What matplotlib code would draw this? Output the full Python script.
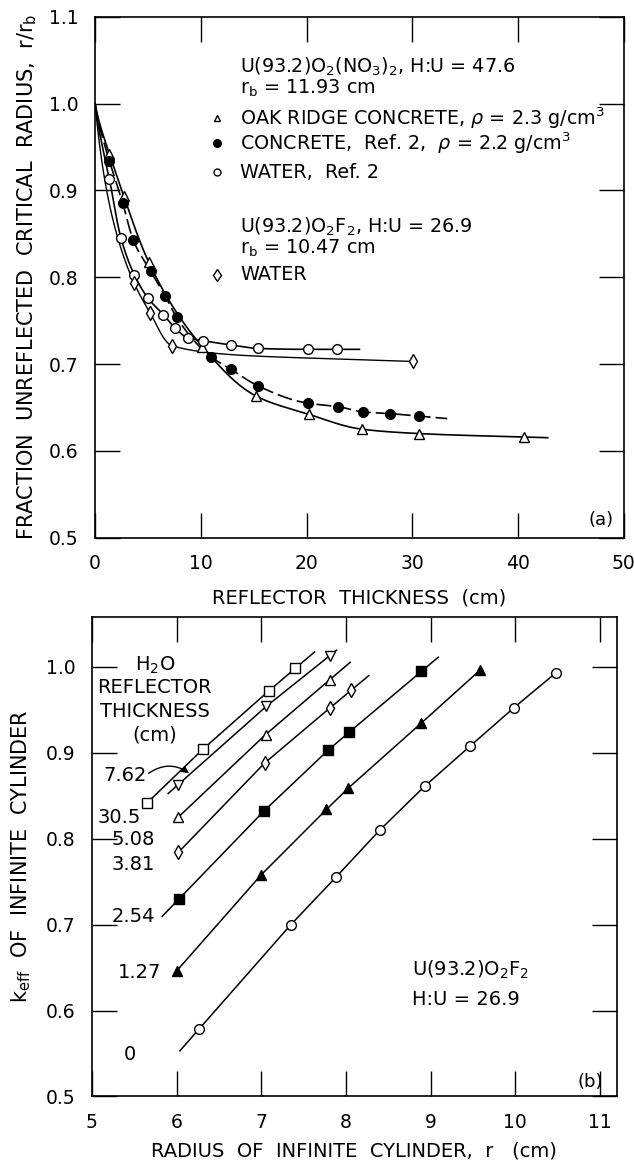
import numpy as np
import matplotlib
matplotlib.use("Agg")
import matplotlib.pyplot as plt

plt.rcParams['font.family'] = ['DejaVu Sans']
plt.rcParams['mathtext.fontset'] = 'dejavusans'

# ---- panel (a): fraction unreflected critical radius vs reflector thickness
oak_x = [1.35, 2.7, 5.05, 10.15, 15.25, 20.25, 25.25, 30.6, 40.6]
oak_y = [0.942, 0.894, 0.818, 0.720, 0.663, 0.642, 0.625, 0.620, 0.616]
conc_x = [1.35, 2.6, 3.6, 5.25, 6.6, 7.7, 11.0, 12.85, 15.4, 20.1, 23.0, 25.3, 27.9, 30.6]
conc_y = [0.934, 0.886, 0.843, 0.807, 0.779, 0.754, 0.708, 0.694, 0.675, 0.655, 0.651, 0.645, 0.643, 0.640]
wat2_x = [1.35, 2.45, 3.7, 5.0, 6.45, 7.6, 8.8, 10.2, 12.85, 15.45, 20.1, 22.9]
wat2_y = [0.913, 0.845, 0.803, 0.776, 0.757, 0.741, 0.730, 0.727, 0.722, 0.718, 0.717, 0.717]
watf_x = [3.7, 5.2, 7.3, 30.1]
watf_y = [0.793, 0.759, 0.721, 0.703]
# curves start at the unreflected point (0, 1.0) and run to these ends
curve_end = {'oak': 42.8, 'conc': 33.3, 'wat2': 25.0, 'watf': 30.1}

# ---- panel (b): keff of infinite cylinder vs radius, by H2O reflector thickness
b_labels = ['30.5', '7.62', '5.08', '3.81', '2.54', '1.27', '0']
b_x = [
    [5.65, 6.31, 7.09, 7.40],
    [6.02, 7.06, 7.81],
    [6.02, 7.05, 7.81],
    [6.02, 7.04, 7.81, 8.06],
    [6.03, 7.03, 7.79, 8.04, 8.89],
    [6.00, 7.00, 7.77, 8.03, 8.89, 9.58],
    [6.27, 7.35, 7.88, 8.40, 8.93, 9.47, 9.98, 10.48],
]
b_y = [
    [0.8415, 0.904, 0.972, 0.998],
    [0.863, 0.954, 1.013],
    [0.825, 0.921, 0.985],
    [0.784, 0.888, 0.952, 0.9725],
    [0.730, 0.832, 0.903, 0.924, 0.9945],
    [0.646, 0.758, 0.834, 0.859, 0.9345, 0.9957],
    [0.579, 0.700, 0.755, 0.810, 0.861, 0.908, 0.952, 0.993],
]
b_line_range = [(5.65, 7.63), (5.90, 7.89), (6.02, 8.05), (6.02, 8.27),
                (5.83, 9.09), (6.00, 9.58), (6.04, 10.48)]
b_markers = [('s', 'white'), ('v', 'white'), ('^', 'white'), ('d', 'white'),
             ('s', 'black'), ('^', 'black'), ('o', 'white')]


def pchip(x, y, xi):
    x = np.asarray(x, float)
    y = np.asarray(y, float)
    h = np.diff(x)
    d = np.diff(y) / h
    m = np.zeros_like(y)
    m[0], m[-1] = d[0], d[-1]
    for k in range(1, len(x) - 1):
        if d[k - 1] * d[k] > 0:
            w1 = 2 * h[k] + h[k - 1]
            w2 = h[k] + 2 * h[k - 1]
            m[k] = (w1 + w2) / (w1 / d[k - 1] + w2 / d[k])
    xi = np.asarray(xi, float)
    out = np.empty_like(xi)
    for j, xv in enumerate(xi):
        if xv >= x[-1]:
            out[j] = y[-1] + m[-1] * (xv - x[-1])
            continue
        k = min(max(np.searchsorted(x, xv) - 1, 0), len(x) - 2)
        t = (xv - x[k]) / h[k]
        h00 = 2 * t**3 - 3 * t**2 + 1
        h10 = t**3 - 2 * t**2 + t
        h01 = -2 * t**3 + 3 * t**2
        h11 = t**3 - t**2
        out[j] = h00 * y[k] + h10 * h[k] * m[k] + h01 * y[k + 1] + h11 * h[k] * m[k + 1]
    return out


def smooth_curve(xs, ys, xend):
    # monotone curve through (0, 1) and the points, in log(1+x)
    u = np.log1p([0.0] + list(xs))
    v = [1.0] + list(ys)
    xi = np.linspace(0, xend, 300)
    return xi, pchip(u, v, np.log1p(xi))


def line_through(xs, ys, lo, hi):
    xs = np.asarray(xs, float)
    ys = np.asarray(ys, float)
    s0 = (ys[1] - ys[0]) / (xs[1] - xs[0])
    s1 = (ys[-1] - ys[-2]) / (xs[-1] - xs[-2])
    lx = [lo] + list(xs) + [hi]
    ly = [ys[0] + s0 * (lo - xs[0])] + list(ys) + [ys[-1] + s1 * (hi - xs[-1])]
    return lx, ly


fig = plt.figure(figsize=(6.34, 11.64), dpi=100)
ax1 = fig.add_axes([0.150, 0.538, 0.834, 0.4476])
ax2 = fig.add_axes([0.145, 0.058, 0.828, 0.412])

ms = 7
lw = 1.2

# panel (a) curves
cx, cy = smooth_curve(oak_x, oak_y, curve_end['oak'])
ax1.plot(cx, cy, color='black', lw=lw, zorder=2)
cx, cy = smooth_curve(conc_x, conc_y, curve_end['conc'])
ax1.plot(cx, cy, color='black', lw=lw, dashes=(9, 3), zorder=2)
cx, cy = smooth_curve(wat2_x, wat2_y, curve_end['wat2'])
ax1.plot(cx, cy, color='black', lw=lw, zorder=2)
cx, cy = smooth_curve(watf_x, watf_y, curve_end['watf'])
ax1.plot(cx, cy, color='black', lw=1.0, zorder=2)

ax1.plot(oak_x, oak_y, ls='none', marker='^', ms=ms, mfc='white', mec='black', mew=1.0, zorder=3)
ax1.plot(conc_x, conc_y, ls='none', marker='o', ms=ms, mfc='black', mec='black', zorder=3)
ax1.plot(wat2_x, wat2_y, ls='none', marker='o', ms=ms, mfc='white', mec='black', mew=1.0, zorder=3)
ax1.plot(watf_x, watf_y, ls='none', marker='d', ms=ms, mfc='white', mec='black', mew=1.0, zorder=3)

ax1.set_xlim(0, 50)
ax1.set_ylim(0.5, 1.1)
ax1.set_xticks([0, 10, 20, 30, 40, 50])
ax1.set_yticks([0.5, 0.6, 0.7, 0.8, 0.9, 1.0, 1.1])
ax1.set_yticklabels(['0.5', '0.6', '0.7', '0.8', '0.9', '1.0', '1.1'])
ax1.set_xlabel('REFLECTOR  THICKNESS  (cm)', fontsize=14, labelpad=11)
ax1.set_ylabel(r'FRACTION  UNREFLECTED  CRITICAL  RADIUS,  r/r$_\mathrm{b}$', fontsize=15, labelpad=7)

# legend block of panel (a)
tx, mx = 0.274, 0.231
fs = 13.8
ax1.text(tx, 0.904, r'U(93.2)O$_2$(NO$_3$)$_2$, H:U = 47.6', transform=ax1.transAxes, fontsize=fs, va='center')
ax1.text(tx, 0.862, r'r$_\mathrm{b}$ = 11.93 cm', transform=ax1.transAxes, fontsize=fs, va='center')
ax1.text(tx, 0.806, r'OAK RIDGE CONCRETE, $\rho$ = 2.3 g/cm$^3$', transform=ax1.transAxes, fontsize=fs, va='center')
ax1.text(tx, 0.758, r'CONCRETE,  Ref. 2,  $\rho$ = 2.2 g/cm$^3$', transform=ax1.transAxes, fontsize=fs, va='center')
ax1.text(tx, 0.702, 'WATER,  Ref. 2', transform=ax1.transAxes, fontsize=fs, va='center')
ax1.text(tx, 0.597, r'U(93.2)O$_2$F$_2$, H:U = 26.9', transform=ax1.transAxes, fontsize=fs, va='center')
ax1.text(tx, 0.555, r'r$_\mathrm{b}$ = 10.47 cm', transform=ax1.transAxes, fontsize=fs, va='center')
ax1.text(tx, 0.505, 'WATER', transform=ax1.transAxes, fontsize=fs, va='center')
ax1.plot([mx], [0.806], transform=ax1.transAxes, marker='^', ms=5, mfc='white', mec='black', ls='none', clip_on=False)
ax1.plot([mx], [0.758], transform=ax1.transAxes, marker='o', ms=5.5, mfc='black', mec='black', ls='none', clip_on=False)
ax1.plot([mx], [0.702], transform=ax1.transAxes, marker='o', ms=5, mfc='white', mec='black', ls='none', clip_on=False)
ax1.plot([mx], [0.505], transform=ax1.transAxes, marker='d', ms=6, mfc='white', mec='black', ls='none', clip_on=False)
ax1.text(0.957, 0.035, '(a)', transform=ax1.transAxes, fontsize=13, ha='center', va='center')

# panel (b)
for xs, ys, (lo, hi), (mk, fc) in zip(b_x, b_y, b_line_range, b_markers):
    lx, ly = line_through(xs, ys, lo, hi)
    ax2.plot(lx, ly, color='black', lw=1.1, zorder=2)
    ax2.plot(xs, ys, ls='none', marker=mk, ms=7, mfc=fc, mec='black', mew=1.0, zorder=3)

ax2.set_xlim(5, 11.2)
ax2.set_ylim(0.5, 1.058)
ax2.set_xticks([5, 6, 7, 8, 9, 10, 11])
ax2.set_yticks([0.5, 0.6, 0.7, 0.8, 0.9, 1.0])
ax2.set_yticklabels(['0.5', '0.6', '0.7', '0.8', '0.9', '1.0'])
ax2.set_xlabel('RADIUS  OF  INFINITE  CYLINDER,  r   (cm)', fontsize=14, labelpad=7)
ax2.set_ylabel(r'k$_\mathrm{eff}$  OF  INFINITE  CYLINDER', fontsize=15, labelpad=9)

for s, y in zip(['H$_2$O', 'REFLECTOR', 'THICKNESS', '(cm)'], [0.900, 0.852, 0.802, 0.754]):
    ax2.text(0.120, y, s, transform=ax2.transAxes, fontsize=14, ha='center', va='center')

lab_pos = {'30.5': (0.010, 0.581, 'left'), '7.62': (0.105, 0.669, 'right'),
           '5.08': (0.038, 0.535, 'left'), '3.81': (0.038, 0.483, 'left'),
           '2.54': (0.038, 0.375, 'left'), '1.27': (0.050, 0.258, 'left'),
           '0': (0.072, 0.0875, 'center')}
for lab in b_labels:
    px, py, ha = lab_pos[lab]
    ax2.text(px, py, lab, transform=ax2.transAxes, fontsize=14, ha=ha, va='center')

# arrow from the 7.62 label to its line
k762 = b_labels.index('7.62')
ax_pt = 6.16
ay_pt = np.interp(ax_pt, b_x[k762], b_y[k762])
ax2.annotate('', xy=(ax_pt, ay_pt), xytext=(0.108, 0.674), textcoords='axes fraction',
             arrowprops=dict(arrowstyle='-|>', color='black', lw=1.0, mutation_scale=10,
                             connectionstyle='arc3,rad=-0.35', shrinkA=0, shrinkB=1))

ax2.text(0.61, 0.265, r'U(93.2)O$_2$F$_2$', transform=ax2.transAxes, fontsize=14, va='center')
ax2.text(0.61, 0.202, 'H:U = 26.9', transform=ax2.transAxes, fontsize=14, va='center')
ax2.text(0.95, 0.03, '(b)', transform=ax2.transAxes, fontsize=13, ha='center', va='center')

for ax in (ax1, ax2):
    ax.tick_params(direction='in', length=18, width=1.0, top=True, right=True, labelsize=13.5, pad=12)
    for sp in ax.spines.values():
        sp.set_linewidth(1.2)

fig.savefig('out.png', dpi=100)
